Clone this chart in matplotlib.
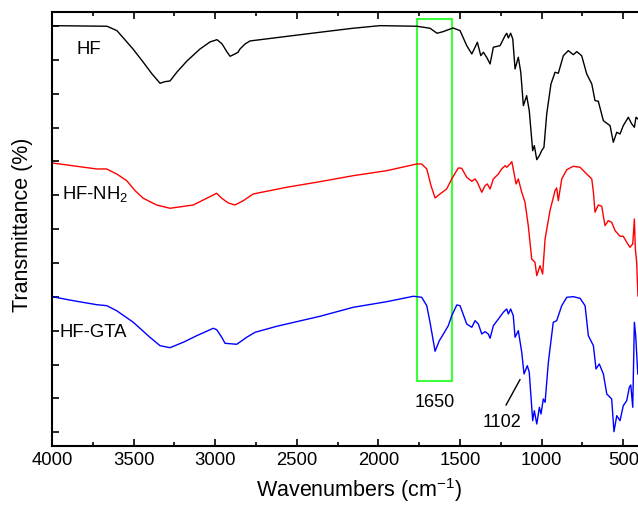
import numpy as np
import matplotlib.pyplot as plt

plt.rcParams['font.family'] = ['Liberation Sans', 'DejaVu Sans']
plt.rcParams['mathtext.default'] = 'regular'

# HF spectrum (wavenumber, transmittance a.u.)
hf_wn = [4000, 3663, 3602, 3504, 3442, 3387, 3338, 3308, 3277, 3234, 3173, 3093, 3032, 2989,
         2958, 2928, 2909, 2891, 2860, 2848, 2817, 2787, 2358, 2156, 1990, 1764, 1684, 1641,
         1604, 1543, 1500, 1459, 1428, 1408, 1394, 1373, 1357, 1337, 1316, 1296, 1255, 1224,
         1214, 1204, 1190, 1177, 1163, 1143, 1128, 1112, 1092, 1076, 1055, 1045, 1030, 1014,
         1000, 986, 969, 943, 918, 898, 867, 837, 806, 785, 755, 724, 693, 673, 653, 622,
         581, 561, 540, 520, 500, 469, 448, 432, 422, 410]
hf_t = [420.3, 419.7, 415.3, 397, 384, 372, 362.7, 364.3, 365, 374, 385, 397, 404, 406.3,
        402, 394, 389.7, 391, 393.7, 397, 402, 405, 413.7, 417.7, 420.3, 419.7, 417.7, 412.7,
        414.3, 418, 415.3, 400.3, 392, 398.7, 403.7, 390.3, 393.7, 388.7, 382, 398.7, 400.3, 410.3,
        412.7, 408, 412.7, 407, 377, 388.7, 373.7, 340.3, 350.3, 335.3, 295.3, 300.3, 286.3, 290.3,
        295.3, 298.7, 332, 362, 373.7, 372.7, 390.3, 395.3, 391.3, 394.3, 390.3, 372, 362, 345.3, 344.7, 325.3,
        320.3, 303.7, 313.7, 312, 320.3, 328.7, 322, 318.7, 328.7, 327]

# HF-NH2 spectrum
nh2_wn = [4000, 3726, 3665, 3604, 3542, 3491, 3441, 3359, 3277, 3134, 3052, 2991, 2960, 2920,
          2879, 2828, 2767, 2562, 2358, 2154, 1949, 1765, 1735, 1704, 1678, 1653, 1623, 1582,
          1551, 1511, 1490, 1459, 1428, 1408, 1394, 1367, 1347, 1333, 1316, 1296, 1265, 1245,
          1224, 1214, 1194, 1183, 1174, 1157, 1143, 1122, 1102, 1082, 1061, 1041, 1030, 1010,
          994, 979, 949, 918, 908, 898, 877, 846, 806, 765, 724, 693, 683, 673, 653, 632, 612,
          592, 571, 550, 520, 500, 479, 459, 442, 432, 426, 418, 410]
nh2_t = [283, 277, 277, 272, 265.3, 255.3, 247.7, 241, 237.7, 241, 247.7, 252.7, 247.7, 243,
         241, 245.3, 252, 258.7, 264.3, 270.3, 275.3, 282, 282, 277, 260.3, 248, 252, 257,
         267, 278, 277.7, 268.7, 264.7, 267, 263.7, 253.7, 260.3, 262, 257, 267, 272, 277,
         280.3, 278.7, 282, 284.3, 277, 262, 267, 253.7, 243.7, 220.3, 187, 183.7, 170.3, 180.3,
         172, 207, 235.3, 255.3, 258, 245.3, 267, 276.3, 279.7, 278.7, 272, 267, 253.7, 233.7, 241, 239.7, 220.3,
         225.3, 223.7, 215.3, 209.7, 209.7, 203.7, 198.7, 202, 227, 197, 183.7, 150]

# HF-GTA spectrum
gta_wn = [4000, 3849, 3726, 3665, 3604, 3502, 3400, 3338, 3277, 3196, 3113, 3012, 2991, 2960,
          2940, 2868, 2807, 2756, 2623, 2358, 2154, 1949, 1786, 1735, 1704, 1684, 1653, 1627,
          1602, 1572, 1551, 1520, 1500, 1459, 1428, 1408, 1388, 1367, 1347, 1327, 1316, 1296,
          1265, 1235, 1214, 1204, 1190, 1174, 1163, 1143, 1122, 1108, 1088, 1076, 1055, 1045,
          1030, 1014, 1004, 990, 979, 959, 929, 908, 877, 846, 806, 765, 734, 714, 683, 667,
          647, 622, 601, 571, 557, 540, 520, 500, 479, 463, 454, 442, 432, 424, 411]
gta_t = [149.3, 144.7, 141.3, 140.3, 135.3, 123.7, 108.7, 100.3, 98.3, 103.7, 110.3, 117.7, 116.3, 108.7,
         102.7, 101.7, 108.7, 113.7, 119.7, 129.7, 138.7, 144.3, 149.7, 148.7, 140.3, 123.7, 94.7, 105.3,
         112, 120.3, 130.3, 141, 140.3, 122, 118.7, 125.3, 122, 112, 114.3, 112, 107.7, 120.3,
         127, 133.7, 137, 132, 137, 130.3, 108.7, 115.3, 93.7, 72, 80.3, 73.7, 25.3, 35.3,
         22, 38.7, 32, 47, 43.7, 83.7, 123.7, 125.3, 140.3, 148.7, 149.3, 147.7, 140.3, 110.3, 100.3, 77,
         82, 72, 52, 47, 14.3, 30.3, 25.3, 40.3, 45.3, 58.7, 61, 38.7, 123.7, 110.3, 72]

fig = plt.figure(figsize=(6.38, 5.06), dpi=100)
ax = fig.add_axes([0.0815, 0.1172, 1.0025 - 0.0815, 0.975 - 0.1172])

ax.plot(hf_wn, hf_t, color='black', lw=1.0)
ax.plot(nh2_wn, nh2_t, color='red', lw=1.0)
ax.plot(gta_wn, gta_t, color='blue', lw=1.0)

# highlight box around the 1650 band
ax.add_patch(plt.Rectangle((1549, 65.3), 1765 - 1549, 426.7 - 65.3, fill=False,
                           edgecolor='#3cff3c', lw=1.5))
ax.text(1658, 40.3, '1650', fontsize=13, ha='center', va='baseline')
ax.plot([1218, 1133], [41, 66.3], color='black', lw=1.0)
ax.text(1241, 20.3, '1102', fontsize=13, ha='center', va='baseline')

ax.text(3847, 392.7, 'HF', fontsize=13.3, va='baseline')
ax.text(3937, 247.7, 'HF-NH$_2$', fontsize=13.3, va='baseline')
ax.text(3951, 109.7, 'HF-GTA', fontsize=13.3, va='baseline')

ax.set_xlim(4000, 400)
ax.set_ylim(0.3, 434.3)
ax.set_xticks([4000, 3500, 3000, 2500, 2000, 1500, 1000, 500])
ax.set_xticks(np.arange(3750, 400, -500), minor=True)
ax.set_yticks(np.arange(13.7, 430, 33.85))
ax.set_yticklabels([])
ax.tick_params(axis='both', which='major', direction='in', length=5, width=1.2, labelsize=13.3)
ax.tick_params(axis='x', which='minor', direction='in', length=3, width=1.2)
ax.tick_params(top=True, which='both', direction='in')
for s in ax.spines.values():
    s.set_linewidth(1.5)

ax.set_xlabel('Wavenumbers (cm$^{-1}$)', fontsize=15.5)
ax.xaxis.set_label_coords(0.5225, -0.068)
ax.set_ylabel('Transmittance (%)', fontsize=15.5)
ax.yaxis.set_label_coords(-0.032, 0.512)

fig.savefig('out.png', dpi=100)
